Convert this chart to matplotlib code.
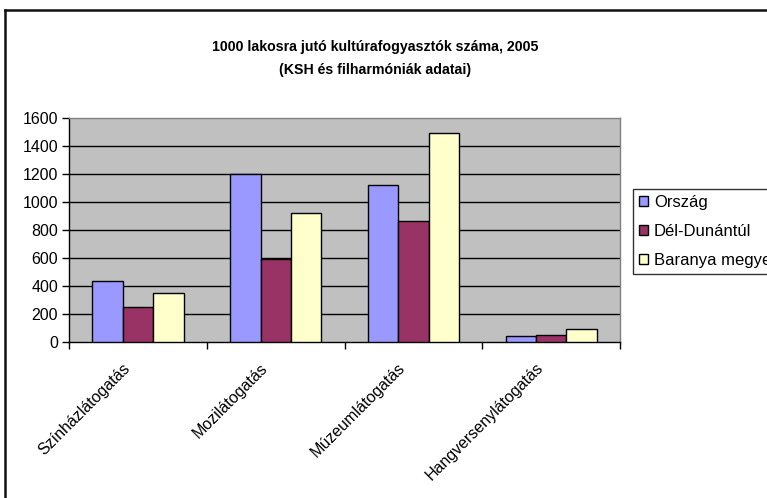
import numpy as np
import matplotlib
matplotlib.use('Agg')
import matplotlib.pyplot as plt
import matplotlib.transforms as mtransforms
from matplotlib.lines import Line2D

plt.rcParams['font.family'] = ['Liberation Sans', 'DejaVu Sans']

# data
categories = ['Színházlátogatás', 'Mozilátogatás', 'Múzeumlátogatás', 'Hangversenylátogatás']
orszag = [435, 1200, 1120, 45]
del_dunantul = [252, 597, 866, 54]
baranya = [352, 921, 1493, 97]
series_names = ['Ország', 'Dél-Dunántúl', 'Baranya megye']
colors = ['#9999FF', '#993366', '#FFFFCC']
title = '1000 lakosra jutó kultúrafogyasztók száma, 2005\n(KSH és filharmóniák adatai)'

fig = plt.figure(figsize=(7.67, 4.98), dpi=100)
W, H = 767, 498
ax = fig.add_axes([69.3 / W, 1 - 342.3 / H, (620 - 69.3) / W, (342.3 - 118.3) / H])
ax.set_facecolor('#C0C0C0')

x = np.arange(len(categories))
bw = 0.221
for k, (vals, c, name) in enumerate(zip([orszag, del_dunantul, baranya], colors, series_names)):
    ax.bar(x + (k - 1) * bw, vals, bw, color=c, edgecolor='black', linewidth=1,
           label=name, zorder=3)

ax.set_xlim(-0.5, len(categories) - 0.5)
ax.set_ylim(0, 1600)
ax.set_yticks(np.arange(0, 1601, 200))
for yv in range(200, 1600, 200):
    ax.axhline(yv, color='black', linewidth=1, zorder=1)

ax.set_xticks(np.arange(-0.5, len(categories), 1.0))
ax.set_xticklabels([])
ax.set_xticks(x, minor=True)
ax.set_xticklabels(categories, minor=True, rotation=45, ha='right', va='top', fontsize=11.5)
ax.tick_params(axis='x', which='minor', length=0, pad=13)
ax.tick_params(axis='x', which='major', direction='out', length=5, width=1)
ax.tick_params(axis='y', direction='out', length=5, width=1, labelsize=11.5, pad=3)
shift = mtransforms.ScaledTranslation(-5 / 100, 0, fig.dpi_scale_trans)
for lab in ax.get_xticklabels(minor=True):
    lab.set_transform(lab.get_transform() + shift)

for s in ['left', 'bottom']:
    ax.spines[s].set_color('black')
    ax.spines[s].set_linewidth(1)
for s in ['top', 'right']:
    ax.spines[s].set_color('#808080')
    ax.spines[s].set_linewidth(1)

fig.text(375 / W, 1 - 40 / H, title, ha='center', va='top', fontsize=10.2,
         fontweight='bold', linespacing=1.85)

leg = ax.legend(loc='upper left', bbox_to_anchor=(633 / W, 1 - 189 / H),
                bbox_transform=fig.transFigure, fontsize=12, frameon=True,
                fancybox=False, edgecolor='black', handlelength=0.55,
                handleheight=0.55, handletextpad=0.35, labelspacing=0.85,
                borderpad=0.35, borderaxespad=0)
leg.get_frame().set_linewidth(1)
leg.get_frame().set_facecolor('white')

# outer chart frame
fig.add_artist(Line2D([5 / W, 1], [1 - 10.5 / H] * 2, color='#111111', linewidth=1.8))
fig.add_artist(Line2D([5 / W] * 2, [0, 1 - 10.5 / H], color='#111111', linewidth=1.8))

fig.savefig('out.png', dpi=100)
